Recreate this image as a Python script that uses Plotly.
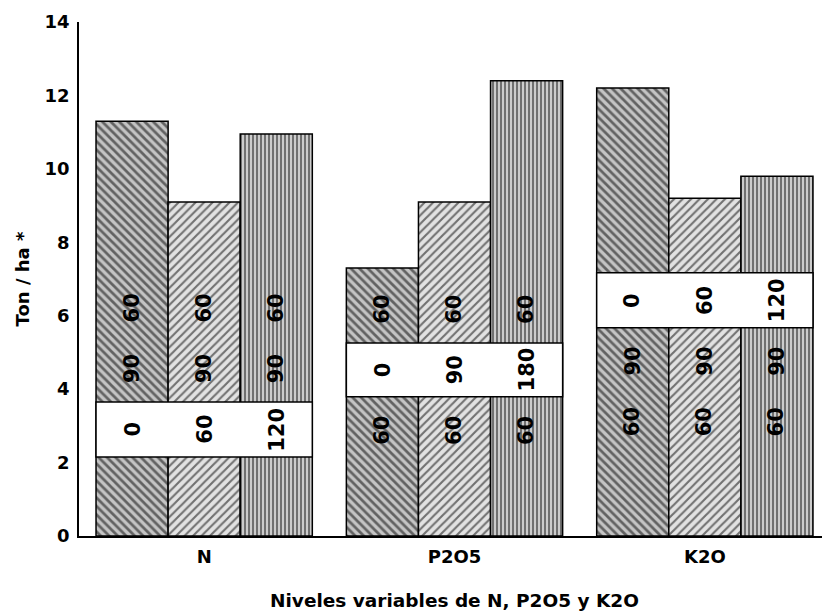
import plotly.graph_objects as go

# ---- data ----
groups = ["N", "P2O5", "K2O"]
yield_bar1 = [11.3, 7.3, 12.2]    # first bar of each group
yield_bar2 = [9.1, 9.1, 9.2]      # second bar
yield_bar3 = [10.95, 12.4, 9.8]   # third bar
box_low = [2.15, 3.79, 5.67]      # white band (varied nutrient) bottom
box_high = [3.65, 5.26, 7.17]     # white band top
# doses (kg/ha) of N, P2O5, K2O for each bar (rows = groups, cols = bars)
dose_N = [[0, 60, 120], [60, 60, 60], [60, 60, 60]]
dose_P = [[90, 90, 90], [0, 90, 180], [90, 90, 90]]
dose_K = [[60, 60, 60], [60, 60, 60], [0, 60, 120]]

x_title = "Niveles variables de N, P2O5 y K2O"
y_title = "Ton / ha *"

# ---- styling ----
FONT = "DejaVu Sans"
W = 0.288
xs = list(range(len(groups)))
patterns = [
    dict(shape="\\", size=6, solidity=0.45, fgcolor="black", bgcolor="#c4c4c4", fillmode="overlay"),
    dict(shape="/", size=6, solidity=0.35, fgcolor="black", bgcolor="#e2e2e2", fillmode="overlay"),
    dict(shape="|", size=4, solidity=0.45, fgcolor="black", bgcolor="#cccccc", fillmode="overlay"),
]

fig = go.Figure()
for k, vals in enumerate([yield_bar1, yield_bar2, yield_bar3]):
    fig.add_trace(go.Bar(
        x=xs, y=vals, width=W, offset=-1.5 * W + k * W,
        marker=dict(color="#ffffff", pattern=patterns[k],
                    line=dict(color="black", width=1.5)),
        showlegend=False, hoverinfo="skip",
    ))

# white band marking the varied nutrient
fig.add_trace(go.Bar(
    x=xs, y=[h - l for h, l in zip(box_high, box_low)], base=box_low,
    width=3 * W, offset=-1.5 * W,
    marker=dict(color="white", line=dict(color="black", width=1.5)),
    showlegend=False, hoverinfo="skip",
))

step = 1.65
annotations = []
for g in xs:
    center = (box_low[g] + box_high[g]) / 2
    for k in range(3):
        doses = [dose_N[g][k], dose_P[g][k], dose_K[g][k]]
        for j, d in enumerate(doses):
            annotations.append(dict(
                x=g + (k - 1) * W, y=center + (j - g) * step, xref="x", yref="y",
                text=str(d), showarrow=False, textangle=-90,
                font=dict(family=FONT, size=21, color="black", weight="bold"),
            ))

fig.update_layout(
    width=822, height=608,
    margin=dict(l=71, r=0, t=14, b=80),
    paper_bgcolor="white", plot_bgcolor="white",
    barmode="overlay",
    font=dict(family=FONT, color="black"),
    annotations=annotations,
    xaxis=dict(
        range=[-0.5, 2.5], tickvals=xs, ticktext=groups,
        showline=True, linecolor="black", linewidth=1.5,
        showgrid=False, zeroline=False, ticks="",
        ticklabelstandoff=4,
        tickfont=dict(family=FONT, size=18, weight="bold"),
        title=dict(text=x_title, font=dict(family=FONT, size=18.5, weight="bold"), standoff=28),
    ),
    yaxis=dict(
        range=[0, 14], dtick=2,
        showline=True, linecolor="black", linewidth=1.5,
        showgrid=False, zeroline=False, ticks="",
        ticklabelstandoff=4,
        tickfont=dict(family=FONT, size=18, weight="bold"),
        title=dict(text=y_title, font=dict(family=FONT, size=18, weight="bold"), standoff=10),
    ),
)

fig.write_html("out.html")
